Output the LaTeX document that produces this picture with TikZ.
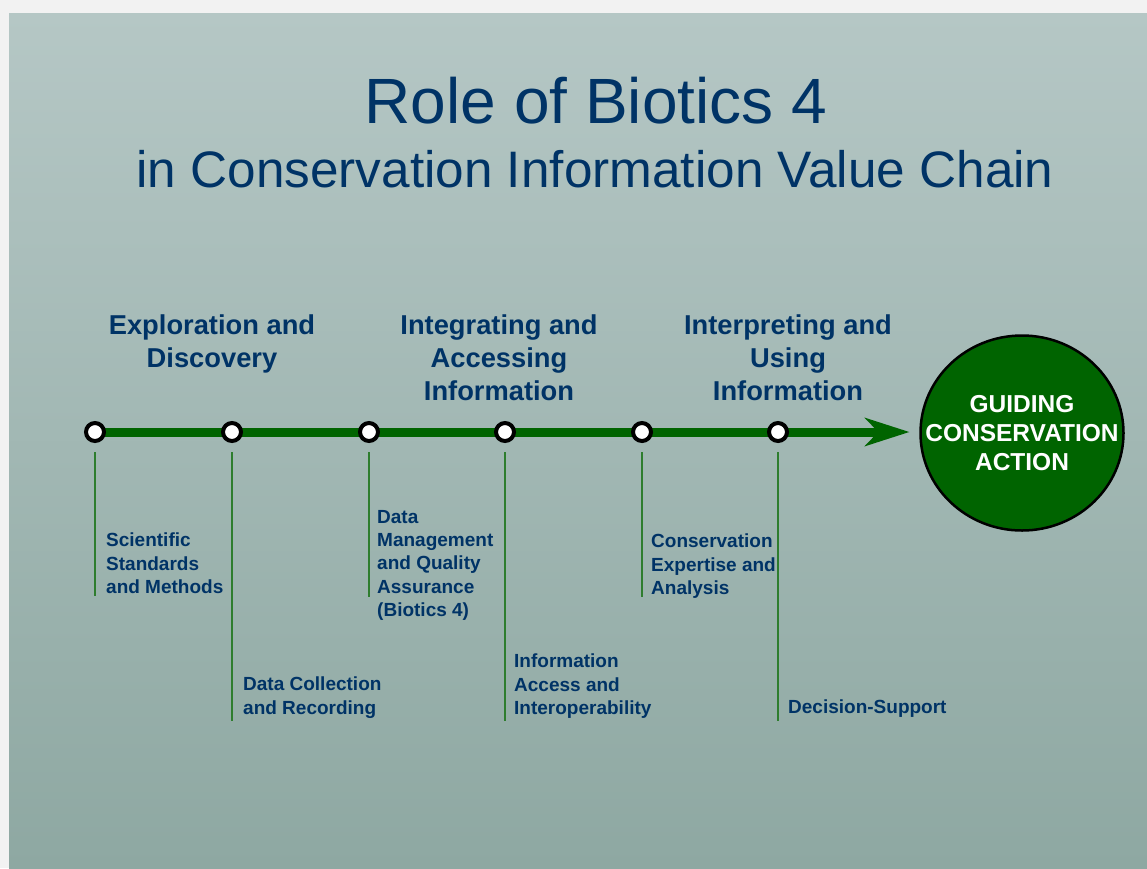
\documentclass[tikz,border=0pt]{standalone}
\usepackage{fontspec}
\setmainfont{Liberation Sans}
\usepackage{xcolor}
\usepackage{tikz}
\usetikzlibrary{arrows.meta}
\usetikzlibrary{shapes.geometric}
\definecolor{navy}{RGB}{0,51,102}
\definecolor{chain}{RGB}{0,100,0}
\definecolor{tickgreen}{RGB}{46,125,46}
\definecolor{bgtop}{RGB}{181,199,197}
\definecolor{bgbot}{RGB}{142,168,162}
\definecolor{page}{RGB}{242,242,242}
\begin{document}
\begin{tikzpicture}[x=1pt,y=-1pt,
    dot/.style={circle,draw=black,line width=4pt,fill=white,minimum size=18pt,inner sep=0pt},
    tick/.style={draw=tickgreen,line width=1.4pt},
    stage/.style={anchor=north,align=center,inner sep=0pt,text=navy,font=\fontsize{27.3}{33}\selectfont\bfseries},
    step label/.style={anchor=north west,align=left,inner sep=0pt,text=navy,font=\fontsize{19}{23.3}\selectfont\bfseries}]
    \useasboundingbox (0,0) rectangle (1147,868);
    % background
    \fill[page] (0,0) rectangle (1147,868);
    \shade[top color=bgtop,bottom color=bgbot] (9,13) rectangle (1147,868);
    % title
    \node[anchor=base,text=navy,font=\fontsize{64}{70}\selectfont] (title) at (596,123) {Role of Biotics 4};
    \node[anchor=base,text=navy,font=\fontsize{51.3}{60}\selectfont] (subtitle) at (595,187) {in Conservation Information Value Chain};
    % goal
    \node[ellipse,draw=black,line width=2.5pt,fill=chain,minimum width=203pt,minimum height=195pt,inner sep=0pt,
      label={[align=center,text=white,font=\fontsize{24.5}{29}\selectfont\bfseries]center:GUIDING\\CONSERVATION\\ACTION}]
      (goal) at (1022,433) {};
    % chain
    \coordinate (c1) at (95,432);
    \draw[chain,line width=9pt,shorten >=10pt,
      -{Stealth[length=45pt,width=29pt,inset=14pt,line width=0pt]}] (c1) -- (goal.west |- c1);
    \foreach \x [count=\i] in {95,232,369,505,642,778}
      \node[dot] (d\i) at (\x,432) {};
    % ticks
    \coordinate (t1) at (95,596);
    \coordinate (t2) at (232,721);
    \coordinate (t3) at (369,597);
    \coordinate (t4) at (505,721);
    \coordinate (t5) at (642,597);
    \coordinate (t6) at (778,721);
    \foreach \i in {1,...,6}
      \draw[tick,shorten <=9pt] (d\i.south) -- (d\i.south |- t\i);
    % stages
    \node[stage] (explore) at (212,315) {Exploration and\\Discovery};
    \node[stage] (integrate) at (499,315) {Integrating and\\Accessing\\Information};
    \node[stage] (interpret) at (788,315) {Interpreting and\\Using\\Information};
    % steps
    \node[step label] (s1) at (106,533) {Scientific\\Standards\\and Methods};
    \node[step label] (s2) at (243,677) {Data Collection\\and Recording};
    \node[step label] (s3) at (377,510) {Data\\Management\\and Quality\\Assurance\\(Biotics 4)};
    \node[step label] (s4) at (514,654) {Information\\Access and\\Interoperability};
    \node[step label] (s5) at (651,534) {Conservation\\Expertise and\\Analysis};
    \node[step label] (s6) at (788,700) {Decision-Support};
\end{tikzpicture}
\end{document}
